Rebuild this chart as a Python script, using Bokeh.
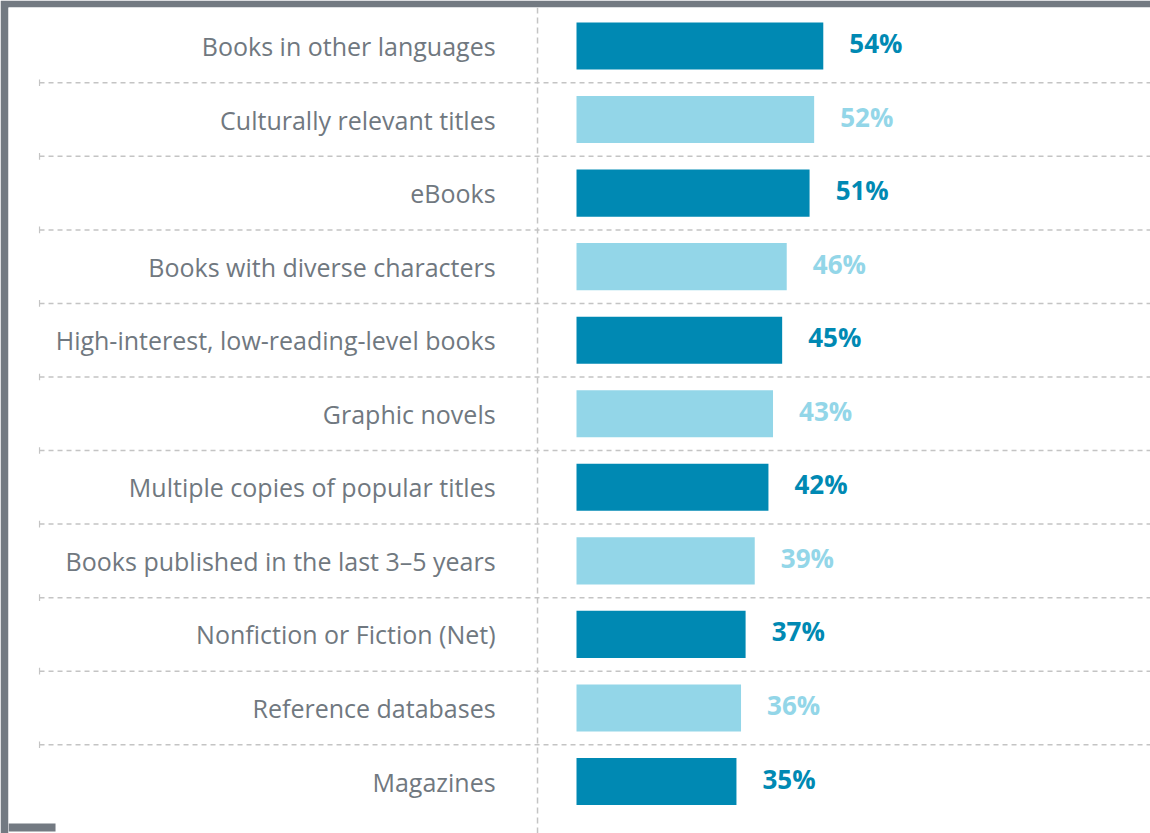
from bokeh.plotting import figure
from bokeh.models import Range1d, ColumnDataSource, Span
from bokeh.core.properties import value
from bokeh.embed import file_html
from bokeh.resources import INLINE

categories = ["Books in other languages", "Culturally relevant titles", "eBooks",
              "Books with diverse characters", "High-interest, low-reading-level books",
              "Graphic novels", "Multiple copies of popular titles",
              "Books published in the last 3\u20135 years", "Nonfiction or Fiction (Net)",
              "Reference databases", "Magazines"]
values = [54, 52, 51, 46, 45, 43, 42, 39, 37, 36, 35]

DARK = "#0089b3"
LIGHT = "#93d6e8"
GRAY_TXT = "#707880"
BORDER = "#737a82"
DASH = "#c4c4c4"

n = len(categories)
rows = list(range(n))
colors = [DARK if i % 2 == 0 else LIGHT for i in rows]

src = ColumnDataSource(dict(
    y=rows, v=values, cat=categories, col=colors,
    lbl=[f"{v}%" for v in values],
    lx=[v + 5.7 for v in values],
    ly=[r - 0.04 for r in rows],
    cx=[-17.7] * n,
))

# frame spans canvas y 7..833 ; row centre i at 45.5 + 73.55*i px
y_top = (7 - 45.5) / 73.55
y_bot = (833 - 45.5) / 73.55
p = figure(width=1150, height=833, output_backend="svg", toolbar_location=None,
           x_range=Range1d(-124.29, 125.60), y_range=Range1d(y_bot, y_top),
           min_border_top=7, min_border_left=8, min_border_right=0, min_border_bottom=0,
           border_fill_color=BORDER, background_fill_color="white",
           outline_line_color=None)
p.axis.visible = False
p.grid.visible = False

# separators
seps = [i + 0.5 for i in range(n - 1)]
p.segment(x0=[-117.5] * len(seps), x1=[125.6] * len(seps), y0=seps, y1=seps,
          line_color=DASH, line_width=1.5, line_dash="5 4")
p.segment(x0=[-117.5] * len(seps), x1=[-117.5] * len(seps),
          y0=[s - 0.045 for s in seps], y1=[s + 0.045 for s in seps],
          line_color=DASH, line_width=1.2)
p.add_layout(Span(location=-8.53, dimension="height", line_color=DASH,
                  line_width=1.5, line_dash="6 4"))

# bottom-left frame corner
p.quad(left=[-124.29], right=[-114.0], bottom=[(831 - 45.5) / 73.55], top=[(823 - 45.5) / 73.55],
       fill_color=BORDER, line_color=None)

p.hbar(y="y", left=0, right="v", height=0.64, fill_color="col", line_color=None, source=src)

p.text(x="cx", y="y", text="cat", source=src, text_align="right", text_baseline="middle",
       text_font=value("Open Sans"), text_font_size="25px", text_color=GRAY_TXT)
p.text(x="lx", y="ly", text="lbl", source=src, text_align="left", text_baseline="middle",
       text_font=value("Open Sans"), text_font_style="bold", text_font_size="26px",
       text_color="col")

open("out.html", "w").write(file_html(p, INLINE))
